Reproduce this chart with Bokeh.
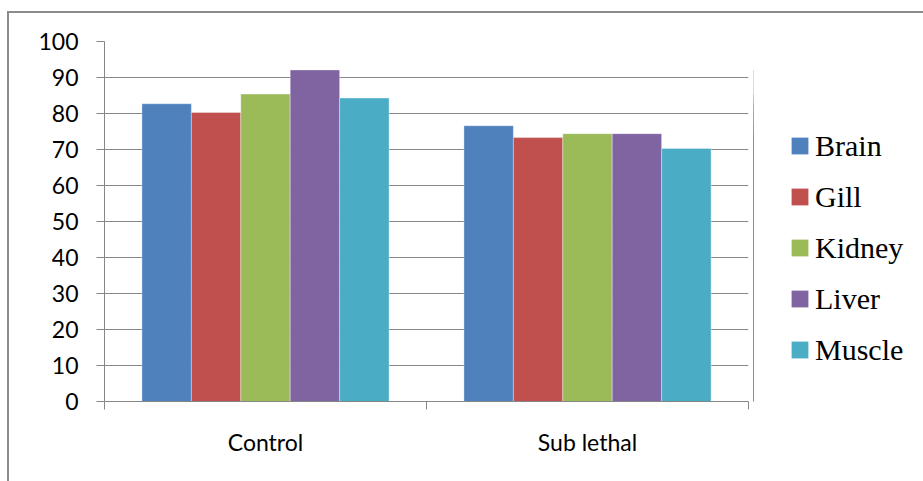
from bokeh.plotting import figure
from bokeh.layouts import row
from bokeh.models import Range1d, FixedTicker
from bokeh.embed import file_html
from bokeh.resources import INLINE

categories = ["Control", "Sub lethal"]
tissues = ["Brain", "Gill", "Kidney", "Liver", "Muscle"]
brain = [82.7, 76.6]
gill = [80.3, 73.3]
kidney = [85.4, 74.4]
liver = [92.1, 74.4]
muscle = [84.3, 70.3]
colors = ["#4F81BD", "#C0504D", "#9BBB59", "#8064A2", "#4BACC6"]
y_ticks = [0, 10, 20, 30, 40, 50, 60, 70, 80, 90, 100]

series = [brain, gill, kidney, liver, muscle]
n_cat = len(categories)
n_ser = len(series)
bar_w = 0.1535
centers = [i + 0.5 for i in range(n_cat)]
bounds = [float(i) for i in range(n_cat + 1)]

GRAY = "#868686"

# main chart
p = figure(width=744, height=468, x_range=Range1d(0, n_cat), y_range=Range1d(0, 100),
           output_backend="svg", toolbar_location=None,
           min_border_left=95, min_border_right=5, min_border_top=28, min_border_bottom=80)
p.outline_line_color = None
p.background_fill_color = "white"
p.border_fill_color = "white"

# legend panel (same bars, kept out of its view; only the legend shows)
q = figure(width=170, height=468, x_range=Range1d(50, 51), y_range=Range1d(0, 100),
           output_backend="svg", toolbar_location=None,
           x_axis_type=None, y_axis_type=None, min_border=0)
q.outline_line_color = None
q.xgrid.visible = False
q.ygrid.visible = False
q.background_fill_color = "white"
q.border_fill_color = "white"

for k, (name, vals, col) in enumerate(zip(tissues, series, colors)):
    xs = [c + (k - (n_ser - 1) / 2) * bar_w for c in centers]
    p.vbar(x=xs, top=vals, width=bar_w, bottom=0, fill_color=col,
           line_color="white", line_alpha=0.35, line_width=1)
    q.vbar(x=xs, top=vals, width=bar_w, bottom=0, fill_color=col,
           line_color=None, legend_label=name)

p.xgrid.visible = False
p.ygrid.ticker = FixedTicker(ticks=y_ticks)
p.ygrid.grid_line_color = GRAY
p.ygrid.grid_line_width = 1

ya = p.yaxis[0]
ya.ticker = FixedTicker(ticks=y_ticks)
ya.axis_line_color = GRAY
ya.major_tick_line_color = GRAY
ya.major_tick_in = 0
ya.major_tick_out = 8
ya.minor_tick_line_color = None
ya.major_label_standoff = 18
ya.major_label_text_font = "Lato"
ya.major_label_text_font_size = "23px"
ya.major_label_text_color = "black"

xa = p.xaxis[0]
xa.ticker = FixedTicker(ticks=centers, minor_ticks=bounds)
xa.major_label_overrides = {c: lab for c, lab in zip(centers, categories)}
xa.axis_line_color = GRAY
xa.major_tick_line_color = None
xa.major_tick_in = 0
xa.major_tick_out = 0
xa.minor_tick_line_color = GRAY
xa.minor_tick_in = 0
xa.minor_tick_out = 8
xa.major_label_standoff = 18
xa.major_label_text_font = "Lato"
xa.major_label_text_font_size = "23px"
xa.major_label_text_color = "black"

lg = q.legend[0]
lg.location = (36, 34)
lg.border_line_color = None
lg.background_fill_alpha = 0
lg.padding = 0
lg.margin = 0
lg.spacing = 16
lg.glyph_width = 21
lg.glyph_height = 21
lg.label_standoff = 5
lg.label_height = 35
lg.label_text_font = "Liberation Serif"
lg.label_text_font_size = "30px"
lg.label_text_color = "black"

layout = row(p, q, spacing=0)
layout.styles = {"margin-left": "7px", "margin-top": "11px",
                 "border-left": "2px solid #8c8c8c", "border-top": "2px solid #8c8c8c"}

open("out.html", "w").write(file_html(layout, INLINE))
